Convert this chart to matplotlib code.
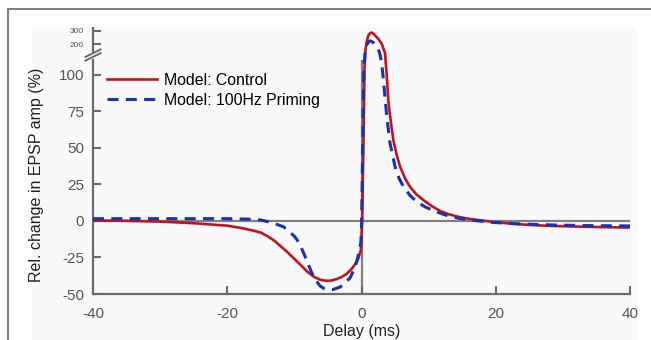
import numpy as np
import matplotlib
matplotlib.use("Agg")
import matplotlib.pyplot as plt
from matplotlib.patches import Rectangle

plt.rcParams['font.family'] = ['Liberation Sans', 'DejaVu Sans']

# delay (ms) and relative change in EPSP amplitude (%)
ctrl_x = [-40, -35, -30, -25, -20, -18, -16, -15, -14, -13, -12, -11, -10, -9, -8, -7, -6,
          -5.2, -4.5, -3.7, -3, -2.2, -1.5, -1, -0.5, -0.1, 0.1, 0.3, 0.45, 0.6, 0.8, 1.0,
          1.2, 1.5, 1.8, 2.1, 2.5, 3.0, 3.5, 3.75, 4.0, 4.25, 4.75, 5.25, 5.75, 6.5, 7.2,
          8.2, 9.2, 10.5, 11.7, 13, 14.4, 16, 18, 20, 22, 25, 28, 32, 36, 40]
ctrl_y = [0.3, 0.0, -0.5, -1.6, -3.3, -4.8, -6.8, -8.0, -10.5, -13.5, -17.5, -21.5, -26,
          -30.5, -35, -38.5, -40.5, -41, -40.8, -39.8, -38.5, -36.2, -33, -30, -26, -20,
          0, 55, 105, 160, 225, 262, 280, 288, 278, 262, 240, 204, 133, 100, 82, 72, 55,
          45, 37, 29, 23.5, 18, 14.3, 10, 6.8, 4.5, 2.8, 1.4, 0.2, -0.9, -1.8, -2.8, -3.4,
          -3.9, -4.3, -4.6]

prim_x = [-40, -30, -20, -17, -15, -14, -13, -11.7, -11, -10.5, -10, -9.6, -9, -8.4, -7.9,
          -7.4, -6.8, -6.2, -5.5, -5, -4.3, -3.2, -2.5, -1.7, -1.2, -0.7, -0.3, -0.1, 0,
          0.1, 0.2, 0.35, 0.55, 0.8, 1.0, 1.3, 1.7, 2.1, 2.4, 2.7, 3.0, 3.25, 3.75, 4.25,
          5.0, 5.6, 6.25, 7.2, 8.2, 9.5, 10.7, 12, 13.2, 14.7, 16.2, 18, 19.6, 21.5, 23.2,
          26, 29.2, 33, 38, 40]
prim_y = [1.5, 1.5, 1.5, 1.2, 0.6, -0.5, -1.8, -3.9, -6, -8.5, -10.5, -13, -18, -24.4,
          -30, -35.6, -40.5, -44.4, -46.5, -47.1, -47, -45.3, -42.5, -39, -34, -27.8, -20,
          -15, -5, 25, 60, 105, 150, 195, 215, 225, 215, 190, 169, 135, 108, 97, 72, 53,
          37, 29, 23.4, 17.5, 13.2, 9.5, 7.0, 4.8, 3.0, 1.6, 0.6, -0.3, -1.1, -1.6, -2.0,
          -2.5, -2.9, -3.2, -3.4, -3.5]

x_ticks = [-40, -20, 0, 20, 40]
y_ticks = [-50, -25, 0, 25, 50, 75, 100, 200, 300]

# broken y axis: linear up to y0, compressed above
y0, k = 113.0, 0.09


def fwd(y):
    y = np.asarray(y, dtype=float)
    return np.where(y <= y0, y, y0 + (y - y0) * k)


def inv(e):
    e = np.asarray(e, dtype=float)
    return np.where(e <= y0, e, y0 + (e - y0) / k)


axis_col = '#6a6a6a'
fig = plt.figure(figsize=(6.51, 3.40), dpi=100)

# panel background and outer frame
fig.patches.append(Rectangle((32 / 651, -0.1), 605 / 651, 1.1 - 27 / 340, transform=fig.transFigure,
                             facecolor='#f9f9f9', edgecolor='none', zorder=-10))
fig.patches.append(Rectangle((8 / 651, -0.2), 1.2, 1.2 - 9 / 340, transform=fig.transFigure,
                             facecolor='none', edgecolor='#808080', lw=1.5, zorder=-5))

ax = fig.add_axes([93 / 651, 46 / 340, 537 / 651, 267 / 340])
ax.set_facecolor('none')
ax.set_yscale('function', functions=(fwd, inv))

ax.axhline(0, color='#808080', lw=1.6, zorder=1)
ax.vlines(0, -50, 110, color='#808080', lw=1.6, zorder=1)

ax.plot(ctrl_x, ctrl_y, color='#c4121a', lw=1.9, label='Model: Control', zorder=3)
ax.plot(prim_x, prim_y, color='#1632b8', lw=2.2, dashes=(3.6, 2.4), label='Model: 100Hz Priming', zorder=4)

ax.set_xlim(-40, 40)
ax.set_ylim(-50, 330)
ax.set_xticks(x_ticks)
ax.set_xticklabels([str(t) for t in x_ticks])
ax.set_yticks(y_ticks)
ax.set_yticklabels([str(t) for t in y_ticks])

for s in ['top', 'right']:
    ax.spines[s].set_visible(False)
for s in ['left', 'bottom']:
    ax.spines[s].set_color(axis_col)
    ax.spines[s].set_linewidth(1.6)
ax.spines['left'].set_bounds(-50, 110)
ax.plot([0, 0], [0.908, 1.0], transform=ax.transAxes, color=axis_col, lw=1.6, clip_on=False,
        solid_capstyle='butt')
# break marks
for yb in [0.888, 0.902]:
    ax.plot([-0.014, 0.014], [yb - 0.014, yb + 0.014], transform=ax.transAxes, color=axis_col,
            lw=1.4, clip_on=False)

ax.tick_params(direction='in', length=6, width=1.5, color=axis_col, labelcolor='#555555',
               labelsize=11)
ax.tick_params(axis='x', pad=9.5)
ax.tick_params(axis='y', pad=6.5)
for lab in ax.get_yticklabels()[-2:]:
    lab.set_fontsize(6)

ax.set_xlabel('Delay (ms)', fontsize=11.5, color='#222222', va='top')
ax.xaxis.set_label_coords(0.5, -0.112)
ax.set_ylabel('Rel. change in EPSP amp (%)', fontsize=11.5, color='#222222')
ax.yaxis.set_label_coords(-0.091, 0.446)

ax.legend(loc='upper left', bbox_to_anchor=(0.027, 0.828), frameon=False, fontsize=11.4,
          handlelength=3.1, handletextpad=0.5, labelspacing=0.3, borderaxespad=0, borderpad=0)

fig.savefig('out.png', dpi=100)
